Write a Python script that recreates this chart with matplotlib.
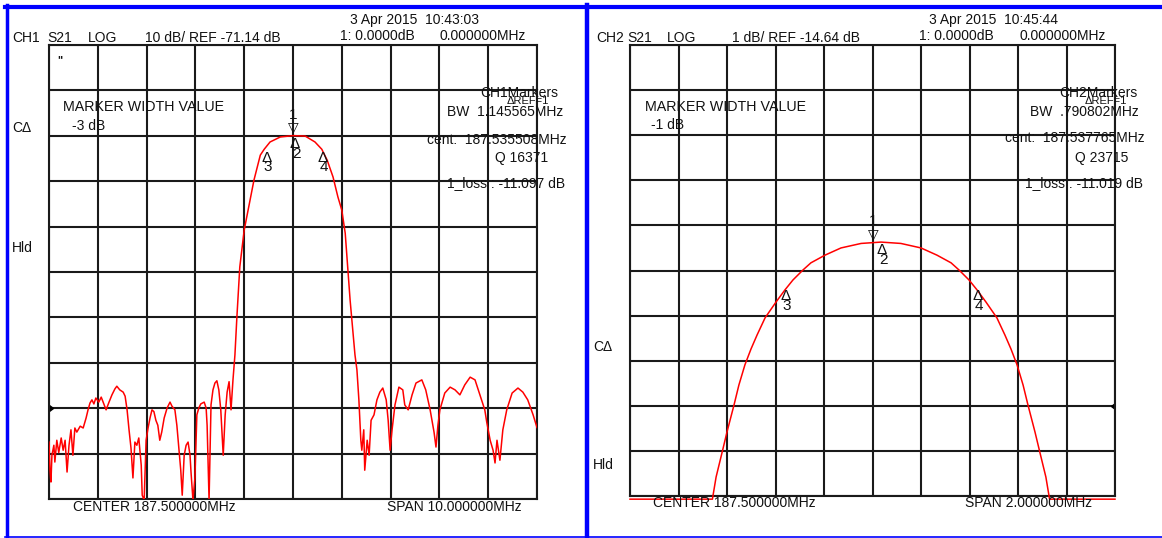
import matplotlib
matplotlib.use('Agg')
import numpy as np
import matplotlib.pyplot as plt
from matplotlib.lines import Line2D

plt.rcParams['font.family'] = ['Liberation Sans', 'DejaVu Sans']

W, H = 1162, 538

# CH1: S21 log, 10 dB/div, ref -71.14 dB (ref line 2 div above bottom)
ch1_center, ch1_span = 187.5, 10.0
ch1_scale, ch1_ref = 10.0, -71.14
ch1_freq = [182.50, 182.52, 182.54, 182.56, 182.60, 182.62, 182.66, 182.70, 182.75, 182.79,
            182.83, 182.87, 182.91, 182.95, 182.99, 183.03, 183.07, 183.14, 183.20, 183.26,
            183.30, 183.34, 183.38, 183.42, 183.46, 183.52, 183.57, 183.63, 183.67, 183.73,
            183.79, 183.85, 183.89, 183.95, 184.02, 184.06, 184.10, 184.14, 184.18, 184.22,
            184.26, 184.30, 184.34, 184.39, 184.41, 184.45, 184.49, 184.53, 184.57, 184.61,
            184.65, 184.69, 184.73, 184.77, 184.81, 184.86, 184.92, 184.98, 185.02, 185.08,
            185.12, 185.16, 185.20, 185.23, 185.27, 185.31, 185.35, 185.39, 185.41, 185.45,
            185.49, 185.53, 185.57, 185.61, 185.68, 185.72, 185.74, 185.78, 185.82, 185.86,
            185.90, 185.94, 185.98, 186.02, 186.07, 186.11, 186.15, 186.19, 186.23, 186.27,
            186.31, 186.35, 186.41, 186.50, 186.58, 186.62, 186.70, 186.83, 186.91, 187.03,
            187.24, 187.50, 187.75, 187.95, 188.09, 188.20, 188.32, 188.42, 188.50, 188.57,
            188.67, 188.77, 188.81, 188.85, 188.89, 188.91, 188.95, 188.97, 189.02, 189.06,
            189.10, 189.16, 189.22, 189.28, 189.34, 189.41, 189.45, 189.49, 189.53, 189.59,
            189.67, 189.75, 189.79, 189.86, 189.94, 190.02, 190.14, 190.22, 190.31, 190.39,
            190.43, 190.47, 190.51, 190.61, 190.72, 190.82, 190.92, 191.02, 191.13, 191.23,
            191.33, 191.43, 191.47, 191.54, 191.60, 191.64, 191.68, 191.74, 191.80, 191.88,
            191.99, 192.11, 192.21, 192.31, 192.42, 192.50]
ch1_db = [-78.6, -84.8, -87.4, -81.5, -79.3, -83.0, -78.2, -80.9, -77.7, -80.4,
          -78.2, -85.2, -79.3, -75.9, -81.5, -75.5, -76.4, -75.1, -75.5, -73.3,
          -71.5, -70.0, -69.3, -70.2, -68.9, -69.8, -68.7, -70.4, -71.5, -69.8,
          -68.2, -66.9, -66.3, -67.1, -67.6, -68.5, -71.5, -75.9, -79.9, -86.5,
          -78.6, -79.3, -77.7, -83.7, -90.3, -91.4, -78.2, -75.5, -73.3, -71.5,
          -71.9, -73.8, -74.9, -78.2, -76.4, -73.3, -71.1, -69.8, -70.7, -71.5,
          -74.9, -79.9, -84.8, -90.3, -81.5, -79.3, -78.6, -81.5, -85.2, -91.4,
          -86.5, -72.6, -71.1, -70.2, -69.8, -71.1, -74.9, -91.4, -70.4, -67.1,
          -65.6, -65.1, -67.1, -71.5, -81.5, -72.6, -67.6, -65.3, -71.5, -64.9,
          -59.4, -51.1, -40.0, -31.9, -27.5, -25.3, -20.9, -15.4, -14.1, -12.5,
          -11.4, -11.1, -11.2, -12.5, -14.1, -16.5, -20.2, -24.6, -27.5, -32.6,
          -47.3, -59.4, -62.7, -69.3, -78.2, -80.4, -75.9, -84.8, -78.2, -81.5,
          -73.8, -72.6, -69.3, -67.6, -66.7, -69.3, -73.8, -80.4, -75.9, -70.4,
          -66.5, -67.1, -70.4, -71.5, -68.2, -65.6, -64.9, -67.1, -71.5, -76.4,
          -79.7, -74.9, -71.5, -67.8, -66.5, -67.1, -68.2, -66.0, -64.3, -64.9,
          -68.2, -71.5, -74.2, -78.2, -80.4, -83.2, -78.2, -82.6, -75.9, -71.5,
          -67.8, -66.7, -67.6, -69.3, -72.6, -75.4]
ch1_mk_freq = [187.500, 187.536, 186.963, 188.108]
ch1_mk_db = [-11.1, -11.1, -14.1, -14.1]

# CH2: S21 log, 1 dB/div, ref -14.64 dB
ch2_center, ch2_span = 187.5, 2.0
ch2_scale, ch2_ref = 1.0, -14.64
ch2_freq = [186.500, 186.840, 186.842, 186.855, 186.879, 186.900, 186.929, 186.949, 186.974, 186.999,
            187.024, 187.057, 187.102, 187.139, 187.172, 187.213, 187.246, 187.304, 187.370, 187.453,
            187.535, 187.617, 187.700, 187.766, 187.824, 187.857, 187.898, 187.931, 187.968, 188.013,
            188.046, 188.071, 188.096, 188.121, 188.141, 188.170, 188.191, 188.215, 188.228, 188.230,
            188.500]
ch2_db = [-16.71, -16.71, -16.64, -16.22, -15.69, -15.22, -14.62, -14.18, -13.73, -13.38,
          -13.07, -12.69, -12.34, -12.07, -11.85, -11.63, -11.47, -11.30, -11.14, -11.04,
          -11.01, -11.04, -11.14, -11.30, -11.47, -11.63, -11.85, -12.07, -12.34, -12.69,
          -13.07, -13.38, -13.73, -14.18, -14.62, -15.22, -15.69, -16.22, -16.64, -16.71,
          -16.71]
ch2_mk_freq = [187.502, 187.538, 187.142, 187.933]
ch2_mk_db = [-11.01, -11.01, -12.02, -12.02]


def fx(x):
    return x / W


def fy(y):
    return 1 - y / H


fig = plt.figure(figsize=(W / 100, H / 100), dpi=100)
fig.patch.set_facecolor('white')


def make_panel(rect, center, span, scale, ref, freq, db, mk_f, mk_db, ref_side):
    ax = fig.add_axes([fx(rect[0]), fy(rect[3]), fx(rect[2] - rect[0]), (rect[3] - rect[1]) / H])
    lo, hi = ref - 2 * scale, ref + 8 * scale
    ax.set_xlim(center - span / 2, center + span / 2)
    ax.set_ylim(lo, hi)
    ax.set_xticks(np.linspace(center - span / 2, center + span / 2, 11))
    ax.set_yticks(np.linspace(lo, hi, 11))
    ax.tick_params(length=0, labelbottom=False, labelleft=False)
    ax.grid(True, color='#1a1a1a', lw=1.5)
    for s in ax.spines.values():
        s.set_color('#1a1a1a')
        s.set_linewidth(1.5)
    ax.plot(freq, db, color='red', lw=1.1, clip_on=(ref_side == 'left'), zorder=3)
    # marker glyphs
    kw = dict(textcoords='offset points', ha='center', va='center',
              annotation_clip=False, zorder=4, color='#111111')
    ax.annotate('\u25bd', (mk_f[0], mk_db[0]), xytext=(0, 6), fontsize=10,
                family=['DejaVu Sans'], **kw)
    ax.annotate('1', (mk_f[0], mk_db[0]), xytext=(0, 15), fontsize=11, **kw)
    for i, n in zip([1, 2, 3], ['2', '3', '4']):
        ax.annotate('\u0394', (mk_f[i], mk_db[i]), xytext=(0, -6), fontsize=11, **kw)
        ax.annotate(n, (mk_f[i], mk_db[i]), xytext=(1, -13), fontsize=11, **kw)
    # reference level pointer
    if ref_side == 'left':
        ax.plot([center - span / 2], [ref], marker=9, ms=4, color='black', clip_on=False)
    else:
        ax.plot([center + span / 2], [ref], marker=8, ms=4, color='black', clip_on=False)
    return ax


make_panel((49, 45, 537, 499), ch1_center, ch1_span, ch1_scale, ch1_ref,
           ch1_freq, ch1_db, ch1_mk_freq, ch1_mk_db, 'left')
make_panel((630, 45, 1115, 496), ch2_center, ch2_span, ch2_scale, ch2_ref,
           ch2_freq, ch2_db, ch2_mk_freq, ch2_mk_db, 'right')


def txt(x, y, s, size=10, **kw):
    fig.text(fx(x), fy(y), s, fontsize=size, ha='left', va='center', color='#111111', **kw)


# left panel labels
txt(12, 38, 'CH1')
txt(47, 38, 'S21')
txt(88, 38, 'LOG')
txt(145, 38, '10 dB/ REF -71.14 dB')
txt(350, 20, '3 Apr 2015  10:43:03')
txt(340, 36, '1: 0.0000dB')
txt(440, 36, '0.000000MHz')
txt(57, 60, '"', size=8, weight='bold')
txt(63, 107, 'MARKER WIDTH VALUE', size=10.3)
txt(72, 126, '-3 dB')
txt(12, 128, 'C\u0394')
txt(12, 248, 'Hld')
txt(480, 93, 'CH1Markers')
txt(507, 101, '\u0394REF=1', size=8)
txt(447, 112, 'BW  1.145565MHz')
txt(427, 140, 'cent:  187.535508MHz')
txt(495, 158, 'Q 16371')
txt(447, 183, '1_loss : -11.097 dB')
txt(73, 507, 'CENTER 187.500000MHz')
txt(387, 507, 'SPAN 10.000000MHz')

# right panel labels
txt(596, 38, 'CH2')
txt(627, 38, 'S21')
txt(667, 38, 'LOG')
txt(732, 38, '1 dB/ REF -14.64 dB')
txt(929, 20, '3 Apr 2015  10:45:44')
txt(919, 36, '1: 0.0000dB')
txt(1019, 36, '0.000000MHz')
txt(645, 107, 'MARKER WIDTH VALUE', size=10.3)
txt(651, 125, '-1 dB')
txt(593, 347, 'C\u0394')
txt(593, 465, 'Hld')
txt(1059, 93, 'CH2Markers')
txt(1085, 101, '\u0394REF=1', size=8)
txt(1030, 112, 'BW  .790802MHz')
txt(1005, 138, 'cent:  187.537765MHz')
txt(1075, 158, 'Q 23715')
txt(1025, 183, '1_loss : -11.019 dB')
txt(653, 503, 'CENTER 187.500000MHz')
txt(965, 503, 'SPAN 2.000000MHz')

# blue frame
blue = '#0000ff'
for (x0, y0, x1, y1, lw) in [(5, 7, 1162, 7, 3.0), (6.5, 5, 6.5, 538, 2.5),
                             (587, 5, 587, 538, 3.2), (5, 536.5, 1162, 536.5, 1.2)]:
    fig.add_artist(Line2D([fx(x0), fx(x1)], [fy(y0), fy(y1)], color=blue, lw=lw,
                          transform=fig.transFigure))

fig.savefig('out.png', dpi=100, facecolor='white')
